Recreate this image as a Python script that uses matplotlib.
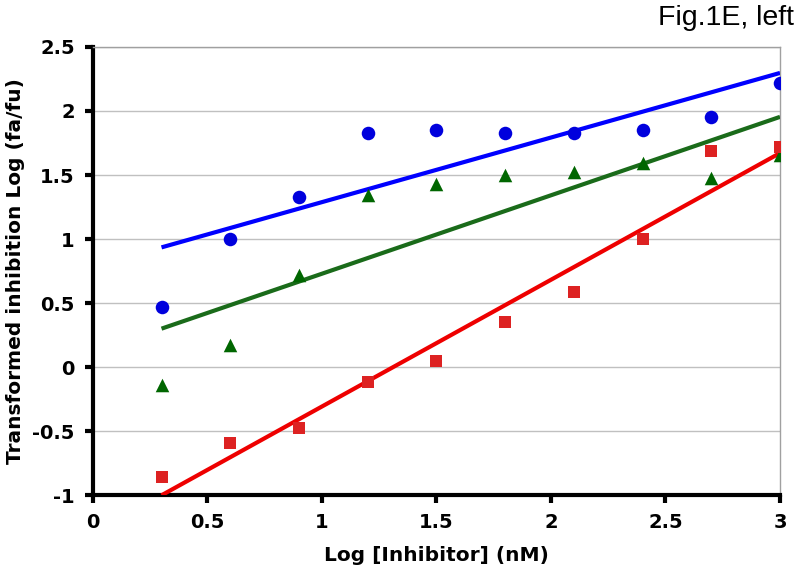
import numpy as np
import matplotlib
matplotlib.use("Agg")
import matplotlib.pyplot as plt

x_vals = [0.3, 0.6, 0.9, 1.2, 1.5, 1.8, 2.1, 2.4, 2.7, 3.0]
blue_vals = [0.47, 1.0, 1.33, 1.83, 1.85, 1.83, 1.83, 1.85, 1.95, 2.22]
green_vals = [-0.14, 0.17, 0.72, 1.34, 1.43, 1.50, 1.52, 1.59, 1.48, 1.66]
red_vals = [-0.86, -0.59, -0.48, -0.12, 0.05, 0.35, 0.59, 1.0, 1.69, 1.72]
x_ticks = [0, 0.5, 1, 1.5, 2, 2.5, 3]
x_tick_labels = ["0", "0.5", "1", "1.5", "2", "2.5", "3"]
y_ticks = [-1, -0.5, 0, 0.5, 1, 1.5, 2, 2.5]
y_tick_labels = ["-1", "-0.5", "0", "0.5", "1", "1.5", "2", "2.5"]

fig = plt.figure(figsize=(8, 5.73), dpi=100)
ax = fig.add_axes([0.116, 0.136, 0.859, 0.782])

x = np.array(x_vals)
series = [
    (blue_vals, "#0000dd", "o", 95, "#0000ff"),
    (green_vals, "#006600", "^", 95, "#1a6b1a"),
    (red_vals, "#dd2222", "s", 80, "#ee0000"),
]
for vals, mcol, mk, ms, lcol in series:
    y = np.array(vals)
    slope, icpt = np.polyfit(x, y, 1)
    xl = np.array([x.min(), x.max()])
    ax.plot(xl, slope * xl + icpt, color=lcol, lw=3, zorder=3, solid_capstyle="butt")
    ax.scatter(x, y, marker=mk, s=ms, color=mcol, zorder=4, linewidths=0)

ax.set_xlim(0, 3)
ax.set_ylim(-1, 2.5)
ax.set_xticks(x_ticks)
ax.set_xticklabels(x_tick_labels)
ax.set_yticks(y_ticks)
ax.set_yticklabels(y_tick_labels)
ax.yaxis.grid(True, color="#c0c0c0", lw=1)
ax.set_axisbelow(True)

for s in ["top", "right"]:
    ax.spines[s].set_color("#a0a0a0")
    ax.spines[s].set_linewidth(1)
for s in ["left", "bottom"]:
    ax.spines[s].set_color("black")
    ax.spines[s].set_linewidth(3)
ax.tick_params(direction="out", length=6, width=3, color="black", pad=7)
for lab in ax.get_xticklabels() + ax.get_yticklabels():
    lab.set_fontweight("bold")
    lab.set_fontsize(14)
    lab.set_family("DejaVu Sans")

ax.set_xlabel("Log [Inhibitor] (nM)", fontsize=14.5, fontweight="bold", labelpad=10)
ax.set_ylabel("Transformed inhibition Log (fa/fu)", fontsize=14.5, fontweight="bold", labelpad=5)
fig.text(0.992, 0.992, "Fig.1E, left", ha="right", va="top", fontsize=20.5, family="Liberation Sans")

fig.savefig("out.png", dpi=100)
